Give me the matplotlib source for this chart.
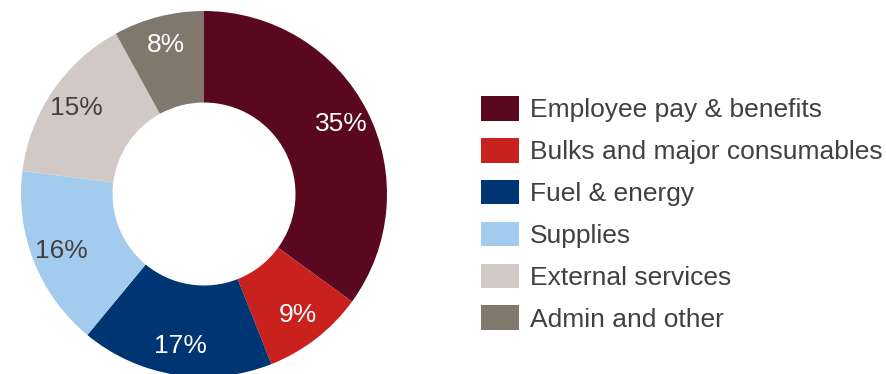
import matplotlib.pyplot as plt
from matplotlib.patches import Patch

plt.rcParams['font.family'] = ['Liberation Sans', 'DejaVu Sans']

categories = ['Employee pay & benefits', 'Bulks and major consumables', 'Fuel & energy',
              'Supplies', 'External services', 'Admin and other']
shares = [35, 9, 17, 16, 15, 8]
colors = ['#5A0820', '#C9211E', '#003574', '#A3CBEE', '#D0C9C6', '#80776D']
label_colors = ['white', 'white', 'white', '#404040', '#404040', 'white']
text_grey = '#404040'

W, H = 887, 374
fig = plt.figure(figsize=(W / 100, H / 100), dpi=100)

# square axes holding the donut (pixel box: 21..387 wide, 11..377 tall)
ax = fig.add_axes([21 / W, (H - 377) / H, 366 / W, 366 / H])
wedges, texts = ax.pie(shares, colors=colors, startangle=90, counterclock=False,
                       radius=1.0, labels=[f'{v}%' for v in shares], labeldistance=0.84,
                       wedgeprops=dict(width=0.5, edgecolor='none'))
for t, c in zip(texts, label_colors):
    t.set_color(c)
    t.set_fontsize(19)
    t.set_ha('center')
    t.set_va('center')
ax.set_xlim(-1, 1)
ax.set_ylim(-1, 1)
ax.set_aspect('equal')
ax.axis('off')

handles = [Patch(facecolor=c, edgecolor='none') for c in colors]
leg = fig.legend(handles, categories, loc='upper left', bbox_to_anchor=(481 / W, 1 - 96 / H),
                 frameon=False, fontsize=19, handlelength=1.44, handleheight=1.06,
                 handletextpad=0.42, labelspacing=0.59, borderpad=0, borderaxespad=0)
for t in leg.get_texts():
    t.set_color(text_grey)

fig.savefig('out.png', dpi=100)
